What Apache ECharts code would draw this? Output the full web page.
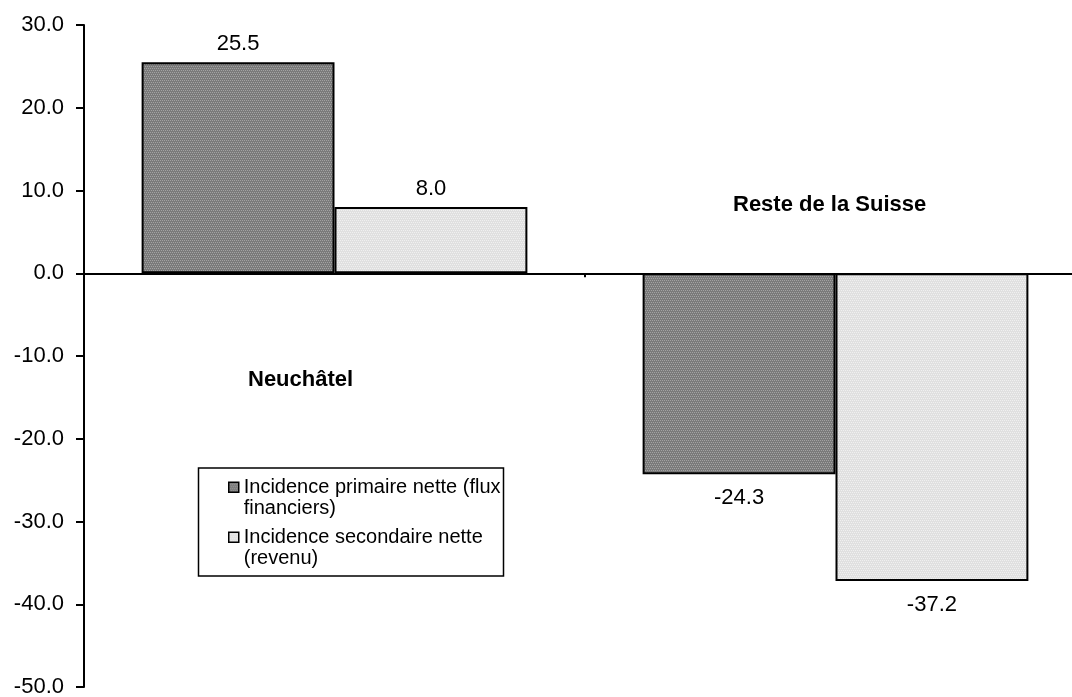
<!DOCTYPE html>
<html>
<head>
<meta charset="utf-8">
<script src="https://cdn.jsdelivr.net/npm/echarts@6/dist/echarts.min.js"></script>
<style>
html,body{margin:0;padding:0;background:#fff;}
#c{width:1072px;height:697px;}
</style>
</head>
<body>
<div id="c"></div>
<script>
var categories = ['Neuchâtel', 'Reste de la Suisse'];
var seriesNames = ['Incidence primaire nette (flux financiers)', 'Incidence secondaire nette (revenu)'];
var primaire = [25.5, -24.3];
var secondaire = [8.0, -37.2];
var yTicks = [-50, -40, -30, -20, -10, 0, 10, 20, 30];

function makePattern(c1, c2) {
  var cv = document.createElement('canvas');
  cv.width = 4; cv.height = 4;
  var ctx = cv.getContext('2d');
  ctx.fillStyle = c1; ctx.fillRect(0, 0, 4, 4);
  ctx.fillStyle = c2;
  ctx.fillRect(0, 0, 1, 1); ctx.fillRect(2, 0, 1, 1);
  ctx.fillRect(1, 2, 1, 1); ctx.fillRect(3, 2, 1, 1);
  return { image: cv, repeat: 'repeat' };
}
var darkFill = makePattern('#7a7a7a', '#a2a2a2');
var lightFill = makePattern('#e0e0e0', '#f0f0f0');

function toData(vals) {
  return vals.map(function (v) {
    return { value: v, label: { position: v < 0 ? 'bottom' : 'top', distance: v < 0 ? 13 : 7 } };
  });
}

var font = '"Liberation Sans", Arial, sans-serif';
var legendText = { fontFamily: font, fontSize: 20, color: '#000', lineHeight: 21.5 };
function legendFmt(n) {
  return '\n' + n.replace('(flux financiers)', '(flux\nfinanciers)').replace('nette (revenu)', 'nette\n(revenu)');
}
var chart = echarts.init(document.getElementById('c'), null, { renderer: 'canvas' });
chart.setOption({
  animation: false,
  backgroundColor: '#fff',
  grid: { left: 84, top: 25, width: 1002, height: 662, containLabel: false, outerBoundsMode: 'none' },
  legend: [
    {
      left: 228, top: 455, padding: 0, icon: 'rect',
      itemWidth: 10, itemHeight: 10,
      itemStyle: { borderColor: '#000', borderWidth: 1.5 },
      data: [seriesNames[0]], formatter: legendFmt, textStyle: legendText
    },
    {
      left: 228, top: 505, padding: 0, icon: 'rect',
      itemWidth: 10, itemHeight: 10,
      itemStyle: { borderColor: '#000', borderWidth: 1.5 },
      data: [seriesNames[1]], formatter: legendFmt, textStyle: legendText
    }
  ],
  xAxis: {
    type: 'category',
    data: categories,
    axisLine: { onZero: true, lineStyle: { color: '#000', width: 2 } },
    axisTick: { show: true, inside: false, length: 4, lineStyle: { color: '#000', width: 2 } },
    axisLabel: { show: false },
    splitLine: { show: false }
  },
  yAxis: {
    type: 'value',
    min: -50, max: 30, interval: 10,
    axisLine: { show: true, lineStyle: { color: '#000', width: 2 } },
    axisTick: { show: true, length: 8, lineStyle: { color: '#000', width: 2 } },
    axisLabel: {
      margin: 20, fontFamily: font, fontSize: 22, color: '#000',
      formatter: function (v) { return yTicks.indexOf(v) >= 0 ? v.toFixed(1) : ''; }
    },
    splitLine: { show: false }
  },
  series: [
    {
      name: seriesNames[0], type: 'bar', data: toData(primaire),
      barCategoryGap: '23%', barGap: '0%',
      itemStyle: { color: darkFill, borderColor: '#000', borderWidth: 2 },
      label: { show: true, fontFamily: font, fontSize: 22, color: '#000', formatter: function (p) { return p.value.toFixed(1); } }
    },
    {
      name: seriesNames[1], type: 'bar', data: toData(secondaire),
      barCategoryGap: '23%', barGap: '0%',
      itemStyle: { color: lightFill, borderColor: '#000', borderWidth: 2 },
      label: { show: true, fontFamily: font, fontSize: 22, color: '#000', formatter: function (p) { return p.value.toFixed(1); } }
    }
  ],
  graphic: [
    { type: 'rect', z: 1, shape: { x: 198.5, y: 468, width: 305, height: 108 }, style: { fill: '#fff', stroke: '#000', lineWidth: 1.5 } },
    { type: 'text', z: 5, x: 248, y: 380, style: { text: categories[0], font: 'bold 22px ' + font, fill: '#000', textVerticalAlign: 'middle' } },
    { type: 'text', z: 5, x: 733, y: 205, style: { text: categories[1], font: 'bold 22px ' + font, fill: '#000', textVerticalAlign: 'middle' } }
  ]
});
</script>
</body>
</html>
